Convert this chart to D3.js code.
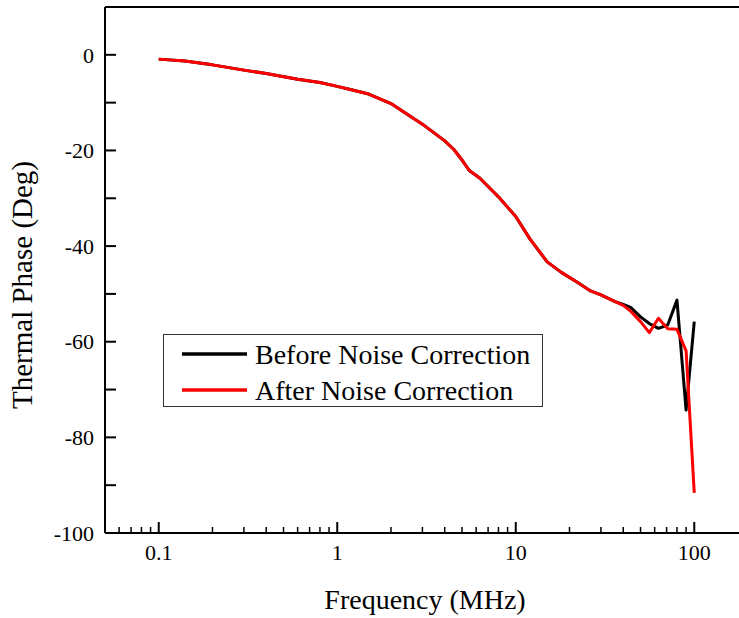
<!DOCTYPE html>
<html><head><meta charset="utf-8">
<script src="https://cdn.jsdelivr.net/npm/d3@7"></script>
<style>body{margin:0;background:#fff}svg{display:block}</style>
</head><body>
<svg id="c" width="739" height="618"></svg>
<script>
const frequency = [0.1,0.14,0.2,0.3,0.4,0.6,0.8,1,1.2,1.5,2,2.5,3,4,4.5,5,5.5,6.3,8,10,12,15,18,22,26,30,36,40,44,50,56,63,71,80,90,100];
const beforeNoise = [-0.9,-1.3,-2.1,-3.2,-3.9,-5.1,-5.8,-6.6,-7.3,-8.2,-10.2,-12.6,-14.5,-18.0,-19.8,-22.0,-24.2,-25.8,-29.7,-33.8,-38.5,-43.3,-45.5,-47.5,-49.3,-50.2,-51.6,-52.2,-52.8,-54.8,-56.2,-57.2,-56.5,-51.3,-74.3,-55.8];
const afterNoise = [-0.9,-1.3,-2.1,-3.2,-3.9,-5.1,-5.8,-6.6,-7.3,-8.2,-10.2,-12.6,-14.5,-18.0,-19.8,-22.0,-24.2,-25.8,-29.7,-33.8,-38.5,-43.3,-45.5,-47.5,-49.3,-50.2,-51.6,-52.4,-53.6,-55.8,-58.1,-55.1,-57.3,-57.4,-61.9,-91.6];
const xTicks = [0.1,1,10,100];
const yTicks = [0,-20,-40,-60,-80,-100];
const seriesNames = ["Before Noise Correction","After Noise Correction"];
const seriesColors = ["#000000","#ff0000"];

const FONT = '"Liberation Serif", "Times New Roman", serif';
const svg = d3.select("#c");
const L=105, T=7, R=748, B=533;
const x = d3.scaleLog().domain([0.05,200]).range([L,R]);
const y = d3.scaleLinear().domain([-100,10]).range([B,T]);

// frame top
svg.append("line").attr("x1",L).attr("x2",R).attr("y1",T).attr("y2",T).attr("stroke","#000").attr("stroke-width",2);

// x axis
const minor = [];
[0.01,0.1,1,10,100].forEach(d=>{for(let k=2;k<=9;k++){const v=+(k*d).toPrecision(3); if(v>=0.05&&v<=200) minor.push(v);}});
const xg = svg.append("g").attr("transform",`translate(0,${B})`);
xg.append("line").attr("x1",L).attr("x2",R).attr("stroke","#000").attr("stroke-width",2);
xg.selectAll(".mj").data(xTicks).enter().append("line").attr("x1",d=>x(d)).attr("x2",d=>x(d)).attr("y1",0).attr("y2",-11).attr("stroke","#000").attr("stroke-width",2);
xg.selectAll(".mn").data(minor).enter().append("line").attr("x1",d=>x(d)).attr("x2",d=>x(d)).attr("y1",0).attr("y2",-6).attr("stroke","#000").attr("stroke-width",1.5);
xg.selectAll(".lb").data(xTicks).enter().append("text").attr("x",d=>x(d)).attr("y",27).attr("text-anchor","middle").style("font-family",FONT).style("font-size","22px").text(d=>d3.format("~g")(d));

// y axis
const yg = svg.append("g").attr("transform",`translate(${L},0)`);
yg.append("line").attr("y1",T).attr("y2",B).attr("stroke","#000").attr("stroke-width",2);
const yAll = d3.range(-100,10,10);
yg.selectAll(".t").data(yAll).enter().append("line").attr("y1",d=>y(d)).attr("y2",d=>y(d)).attr("x1",0).attr("x2",11).attr("stroke","#000").attr("stroke-width",2);
yg.selectAll(".lb").data(yTicks).enter().append("text").attr("x",-11).attr("y",d=>y(d)).attr("dy","0.35em").attr("text-anchor","end").style("font-family",FONT).style("font-size","22px").text(d=>d);

// titles
svg.append("text").attr("x",425).attr("y",609).attr("text-anchor","middle").style("font-family",FONT).style("font-size","28px").text("Frequency (MHz)");
svg.append("text").attr("transform","translate(32,285) rotate(-90)").attr("text-anchor","middle").style("font-family",FONT).style("font-size","29px").text("Thermal Phase (Deg)");

// lines
const line = d3.line().x(d=>x(d[0])).y(d=>y(d[1]));
[beforeNoise, afterNoise].forEach((vals,i)=>{
  svg.append("path").datum(frequency.map((f,j)=>[f,vals[j]])).attr("d",line).attr("fill","none").attr("stroke",seriesColors[i]).attr("stroke-width",3).attr("stroke-linejoin","round");
});

// legend
const lg = svg.append("g");
lg.append("rect").attr("x",163.5).attr("y",334.5).attr("width",379).attr("height",72).attr("fill","#fff").attr("stroke","#333").attr("stroke-width",1);
seriesNames.forEach((n,i)=>{
  const yy = 354 + i*36;
  lg.append("line").attr("x1",182).attr("x2",247).attr("y1",yy).attr("y2",yy).attr("stroke",seriesColors[i]).attr("stroke-width",3.5);
  lg.append("text").attr("x",255).attr("y",yy).attr("dy","0.35em").style("font-family",FONT).style("font-size","28px").text(n);
});
</script>
</body></html>
